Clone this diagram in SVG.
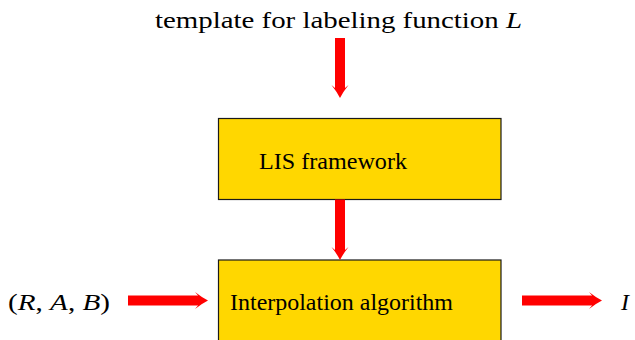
<svg xmlns="http://www.w3.org/2000/svg" width="635" height="340" viewBox="0 0 635 340">
  <style>
    .box { fill: #FFD700; stroke: #1a1a1a; stroke-width: 1.2; }
    .lbl { font-family: "Liberation Serif", "Times New Roman", serif; font-size: 23px; fill: #000; }
    .math { font-family: "Liberation Serif", "DejaVu Serif", serif; font-size: 24px; fill: #000; }
    .it { font-style: italic; }
    .arrow { stroke: #FF0000; stroke-width: 10; fill: none; marker-end: url(#head); }
  </style>
  <defs>
    <!-- curved LaTeX-style arrow tip; origin sits at the shaft end, tip 10 units ahead -->
    <marker id="head" markerUnits="userSpaceOnUse" orient="auto" refX="0" refY="0"
            markerWidth="30" markerHeight="30" overflow="visible">
      <path d="M10,0 Q4,-3 -3,-8.5 L0,-5 L0,5 L-3,8.5 Q4,3 10,0 Z" fill="#FF0000"/>
    </marker>
  </defs>

  <!-- input label at the top -->
  <g id="template">
    <text class="math" x="155" y="28" textLength="367" lengthAdjust="spacingAndGlyphs">template for labeling function <tspan class="it">L</tspan></text>
  </g>

  <g id="lis">
    <rect class="box" x="218.5" y="118.5" width="282.5" height="81"/>
    <text class="lbl" x="259" y="169" textLength="148" lengthAdjust="spacingAndGlyphs">LIS framework</text>
  </g>

  <g id="interp">
    <rect class="box" x="218.5" y="260" width="282.5" height="95"/>
    <text class="lbl" x="230" y="310" textLength="223" lengthAdjust="spacingAndGlyphs">Interpolation algorithm</text>
  </g>

  <g id="input">
    <text class="math" x="8" y="310" textLength="102" lengthAdjust="spacingAndGlyphs">(<tspan class="it">R</tspan>, <tspan class="it">A</tspan>, <tspan class="it">B</tspan>)</text>
  </g>

  <g id="output">
    <text class="math it" x="621" y="310">I</text>
  </g>

  <g id="connectors">
    <line class="arrow" x1="340" y1="38" x2="340" y2="88"/>
    <line class="arrow" x1="340" y1="199.5" x2="340" y2="250"/>
    <line class="arrow" x1="128" y1="300.5" x2="198" y2="300.5"/>
    <line class="arrow" x1="522" y1="300.5" x2="592" y2="300.5"/>
  </g>
</svg>
